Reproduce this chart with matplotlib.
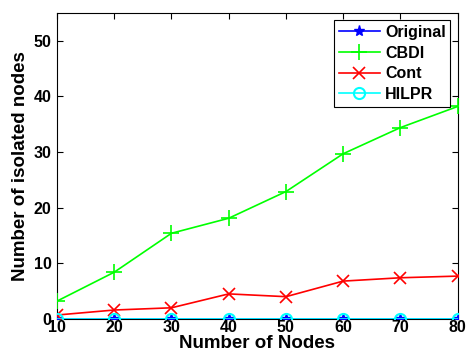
import matplotlib
matplotlib.use("Agg")
import matplotlib.pyplot as plt

nodes = [10, 20, 30, 40, 50, 60, 70, 80]
original = [0, 0, 0, 0, 0, 0, 0, 0]
cbdi = [3.2, 8.4, 15.4, 18.1, 22.9, 29.7, 34.4, 38.2]
cont = [0.7, 1.6, 2.0, 4.5, 4.0, 6.8, 7.4, 7.7]
hilpr = [0, 0, 0, 0, 0, 0, 0, 0]
xticks = [10, 20, 30, 40, 50, 60, 70, 80]
yticks = [0, 10, 20, 30, 40, 50]

plt.rcParams['font.family'] = ['Liberation Sans', 'DejaVu Sans']
plt.rcParams['font.weight'] = 'bold'

fig = plt.figure(figsize=(4.67, 3.62), dpi=100)
ax = fig.add_axes([0.122, 0.119, 0.858, 0.845])

ax.plot(nodes, original, color='#0000ff', marker='*', markersize=8, lw=1.2, label='Original', zorder=3)
ax.plot(nodes, cbdi, color='#00ff00', marker='+', markersize=11, mew=1.2, lw=1.2, label='CBDI', zorder=3)
ax.plot(nodes, cont, color='#ff0000', marker='x', markersize=8, mew=1.2, lw=1.2, label='Cont', zorder=3)
ax.plot(nodes, hilpr, color='#00ffff', marker='o', markersize=8, mfc='none', mew=1.5, lw=1.2, label='HILPR', zorder=4)

ax.set_xlim(10, 80)
ax.set_ylim(0, 55)
ax.set_xticks(xticks)
ax.set_yticks(yticks)
ax.tick_params(direction='in', top=True, right=True, labelsize=11.5, length=4)
ax.tick_params(axis='x', pad=1)
ax.tick_params(axis='y', pad=4)
for lab in ax.get_xticklabels() + ax.get_yticklabels():
    lab.set_fontweight('bold')
ax.set_xlabel('Number of Nodes', fontsize=13.5, fontweight='bold', labelpad=0)
ax.set_ylabel('Number of isolated nodes', fontsize=13.5, fontweight='bold', labelpad=3)

leg = ax.legend(loc='upper right', fontsize=11.5, frameon=True, fancybox=False,
                edgecolor='black', framealpha=1, handlelength=2.6, borderpad=0.3,
                labelspacing=0.35, handletextpad=0.3, borderaxespad=0.45)
leg.get_frame().set_linewidth(0.8)
for t in leg.get_texts():
    t.set_fontweight('bold')

fig.savefig('out.png', dpi=100)
